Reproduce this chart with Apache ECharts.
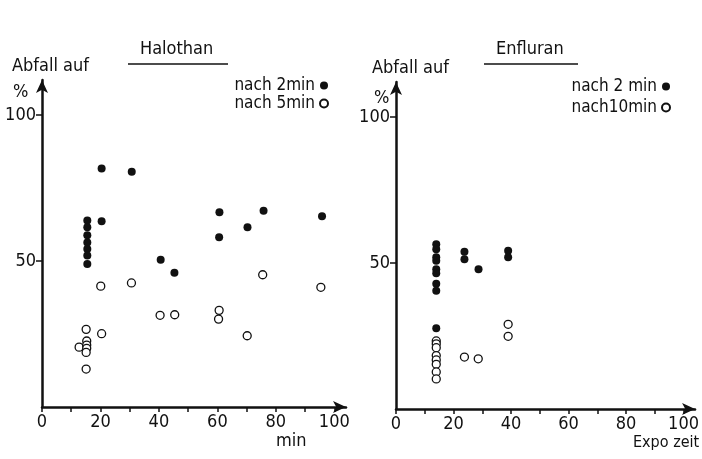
<!DOCTYPE html>
<html>
<head>
<meta charset="utf-8">
<script src="https://cdn.jsdelivr.net/npm/echarts@6/dist/echarts.min.js"></script>
<style>
  html, body { margin: 0; padding: 0; background: #fff; }
  #main { width: 702px; height: 459px; }
</style>
</head>
<body>
<div id="main"></div>
<script>
var FONT = "'DejaVu Sans Condensed', 'Liberation Sans Narrow', 'DejaVu Sans', sans-serif";

// Halothan panel
var halFilledX = [15.5, 15.5, 15.5, 15.5, 15.5, 15.5, 15.5, 20.4, 20.4, 30.7, 40.6, 45.3, 60.7, 60.6, 70.3, 75.8, 95.8];
var halFilledY = [63.9, 61.6, 58.8, 56.3, 54.1, 51.9, 49.0, 81.7, 63.6, 80.6, 50.4, 46.0, 66.7, 58.1, 61.6, 67.2, 65.3];
var halOpenX = [20.1, 30.6, 15.1, 20.4, 12.7, 15.3, 15.3, 15.3, 15.1, 15.1, 40.4, 45.4, 60.6, 60.4, 70.2, 75.5, 95.4];
var halOpenY = [41.4, 42.5, 26.6, 25.1, 20.5, 22.6, 21.2, 20.1, 18.7, 13.0, 31.4, 31.6, 33.1, 30.1, 24.4, 45.3, 41.0];

// Enfluran panel
var enfFilledX = [14, 14, 14, 14, 14, 14, 14, 14, 14, 23.8, 23.8, 28.7, 39, 39];
var enfFilledY = [56.4, 54.7, 52.0, 50.8, 47.9, 46.5, 42.9, 40.5, 27.7, 53.9, 51.3, 47.9, 54.2, 52.0];
var enfOpenX = [14, 14, 14, 14, 14, 14, 14, 14, 23.8, 28.6, 39, 39];
var enfOpenY = [23.3, 22.3, 21.0, 18.3, 16.8, 15.3, 12.7, 10.3, 17.8, 17.2, 29.0, 24.9];

var xTicks = [0, 10, 20, 30, 40, 50, 60, 70, 80, 90, 100];
var xLabels = [0, 20, 40, 60, 80, 100];
var yTicks = [50, 100];

function pairs(xs, ys) {
  var out = [];
  for (var i = 0; i < xs.length; i++) out.push([xs[i], ys[i]]);
  return out;
}

function xAxisFor(idx) {
  return {
    gridIndex: idx, type: 'value', min: 0, max: 104,
    axisLine: { lineStyle: { color: '#111', width: 2.5 }, symbol: ['none', 'arrow'], symbolSize: [9, 13] },
    axisTick: { customValues: xTicks, length: 5, lineStyle: { color: '#111', width: 1.5 } },
    axisLabel: { customValues: xLabels, color: '#111', fontSize: 18, fontFamily: FONT, margin: 6 },
    splitLine: { show: false }
  };
}
function yAxisFor(idx) {
  return {
    gridIndex: idx, type: 'value', min: 0, max: 112,
    axisLine: { lineStyle: { color: '#111', width: 2.5 }, symbol: ['none', 'arrow'], symbolSize: [9, 13] },
    axisTick: { customValues: yTicks, length: 6, lineStyle: { color: '#111', width: 1.5 } },
    axisLabel: { customValues: yTicks, color: '#111', fontSize: 18, fontFamily: FONT, margin: 6 },
    splitLine: { show: false }
  };
}

var filledStyle = { color: '#111', opacity: 1 };
var openStyle = { color: '#fff', borderColor: '#111', borderWidth: 1.3, opacity: 1 };

var myChart = echarts.init(document.getElementById('main'));
var option = {
  backgroundColor: '#fff',
  animation: false,
  grid: [
    { left: 42, top: 80, width: 304, height: 327 },
    { left: 396, top: 82, width: 302, height: 327 }
  ],
  xAxis: [xAxisFor(0), xAxisFor(1)],
  yAxis: [yAxisFor(0), yAxisFor(1)],
  legend: [
    {
      data: ['nach 2min', 'nach 5min'], orient: 'vertical', align: 'right',
      right: 368, top: 72, itemGap: 1, itemWidth: 8, itemHeight: 8,
      textStyle: { fontSize: 17, fontFamily: FONT, color: '#111' }
    },
    {
      data: ['nach 2 min', 'nach10min'], orient: 'vertical', align: 'right',
      right: 26, top: 73, itemGap: 4, itemWidth: 8, itemHeight: 8,
      textStyle: { fontSize: 17, fontFamily: FONT, color: '#111' }
    }
  ],
  graphic: [
    { type: 'text', left: 140, top: 40, style: { text: 'Halothan', fontSize: 18, fontFamily: FONT, fill: '#111' } },
    { type: 'line', shape: { x1: 128, y1: 64, x2: 228, y2: 64 }, style: { stroke: '#111', lineWidth: 1.5 } },
    { type: 'text', left: 496, top: 40, style: { text: 'Enfluran', fontSize: 18, fontFamily: FONT, fill: '#111' } },
    { type: 'line', shape: { x1: 484, y1: 64, x2: 578, y2: 64 }, style: { stroke: '#111', lineWidth: 1.5 } },
    { type: 'text', left: 12, top: 57, style: { text: 'Abfall auf', fontSize: 18, fontFamily: FONT, fill: '#111' } },
    { type: 'text', left: 13, top: 83, style: { text: '%', fontSize: 18, fontFamily: FONT, fill: '#111' } },
    { type: 'text', left: 372, top: 59, style: { text: 'Abfall auf', fontSize: 18, fontFamily: FONT, fill: '#111' } },
    { type: 'text', left: 374, top: 89, style: { text: '%', fontSize: 18, fontFamily: FONT, fill: '#111' } },
    { type: 'text', left: 276, top: 432, style: { text: 'min', fontSize: 18, fontFamily: FONT, fill: '#111' } },
    { type: 'text', left: 633, top: 435, style: { text: 'Expo zeit', fontSize: 16, fontFamily: FONT, fill: '#111' } }
  ],
  series: [
    { name: 'nach 2min', type: 'scatter', xAxisIndex: 0, yAxisIndex: 0, symbol: 'circle', symbolSize: 8,
      itemStyle: filledStyle, data: pairs(halFilledX, halFilledY) },
    { name: 'nach 5min', type: 'scatter', xAxisIndex: 0, yAxisIndex: 0, symbol: 'circle', symbolSize: 8,
      itemStyle: openStyle, data: pairs(halOpenX, halOpenY) },
    { name: 'nach 2 min', type: 'scatter', xAxisIndex: 1, yAxisIndex: 1, symbol: 'circle', symbolSize: 8,
      itemStyle: filledStyle, data: pairs(enfFilledX, enfFilledY) },
    { name: 'nach10min', type: 'scatter', xAxisIndex: 1, yAxisIndex: 1, symbol: 'circle', symbolSize: 8,
      itemStyle: openStyle, data: pairs(enfOpenX, enfOpenY) }
  ]
};
myChart.setOption(option);
</script>
</body>
</html>
